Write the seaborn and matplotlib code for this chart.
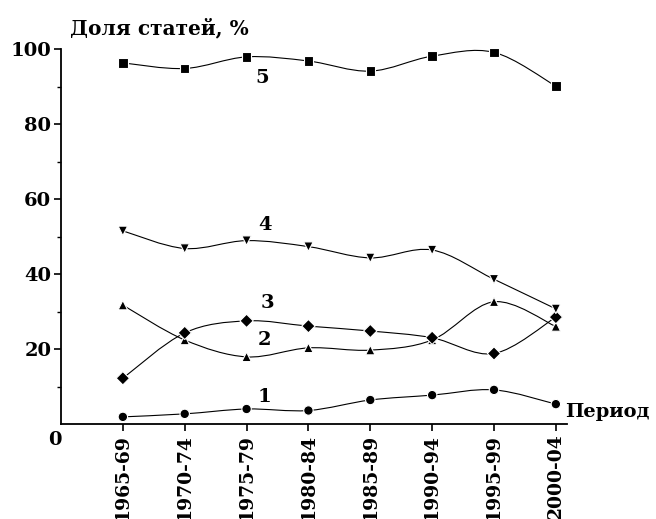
import numpy as np
import pandas as pd
import matplotlib
matplotlib.use("Agg")
import matplotlib.pyplot as plt
from matplotlib.path import Path
from matplotlib.patches import PathPatch
import seaborn as sns

periods = ["1965-69", "1970-74", "1975-79", "1980-84", "1985-89", "1990-94", "1995-99", "2000-04"]
s1 = [1.9, 2.7, 4.0, 3.6, 6.4, 7.7, 9.1, 5.3]
s2 = [31.7, 22.4, 17.9, 20.3, 19.7, 22.4, 32.6, 26.0]
s3 = [12.2, 24.3, 27.5, 26.1, 24.8, 23.0, 18.8, 28.5]
s4 = [51.5, 46.8, 48.9, 47.3, 44.3, 46.4, 38.6, 30.7]
s5 = [96.3, 94.8, 97.9, 96.8, 94.1, 98.1, 99.1, 90.1]
series_names = ["1", "2", "3", "4", "5"]
yticks = [20, 40, 60, 80, 100]
y_title = "Доля статей, %"
x_title = "Период"

sns.set_style("ticks")
plt.rcParams["font.family"] = ["DejaVu Serif"]
plt.rcParams["font.weight"] = "bold"
for key in ["text.color", "axes.labelcolor", "xtick.color", "ytick.color", "axes.edgecolor"]:
    plt.rcParams[key] = "black"

all_series = [s1, s2, s3, s4, s5]
df = pd.DataFrame({
    "pos": np.tile(np.arange(len(periods)), len(all_series)),
    "period": periods * len(all_series),
    "value": np.concatenate(all_series),
    "series": np.repeat(series_names, len(periods)),
})

fig = plt.figure(figsize=(6.56, 5.19), dpi=100)
ax = fig.add_axes([61 / 656, 1 - 424 / 519, (567 - 61) / 656, (424 - 49) / 519])


def smooth_path(xs, ys):
    pts = np.column_stack([xs, ys]).astype(float)
    n = len(pts)
    verts = [pts[0]]
    codes = [Path.MOVETO]
    for i in range(n - 1):
        p0 = pts[i - 1] if i > 0 else pts[i]
        p1 = pts[i]
        p2 = pts[i + 1]
        p3 = pts[i + 2] if i + 2 < n else pts[i + 1]
        c1 = p1 + (p2 - p0) / 6.0
        c2 = p2 - (p3 - p1) / 6.0
        verts += [c1, c2, p2]
        codes += [Path.CURVE4] * 3
    return Path(verts, codes)


for name in series_names:
    sub = df[df["series"] == name]
    ax.add_patch(PathPatch(smooth_path(sub["pos"], sub["value"]), fill=False,
                           edgecolor="black", lw=0.8, zorder=2))

sns.scatterplot(data=df, x="pos", y="value", style="series",
                markers={"1": "o", "2": "^", "3": "D", "4": "v", "5": "s"},
                color="black", s=46, edgecolor="white", linewidth=0.8,
                legend=False, ax=ax, zorder=3)

ax.set_xlim(-1.0, 7.18)
ax.set_ylim(0, 100)
ax.set_xticks(range(len(periods)))
ax.set_xticklabels(periods, rotation=90, fontsize=13.5)
ax.set_yticks(yticks)
ax.set_yticklabels([str(v) for v in yticks], fontsize=14)
ax.set_yticks([10, 30, 50, 70, 90], minor=True)
ax.set_xlabel("")
ax.set_ylabel("")
for side in ["top", "right"]:
    ax.spines[side].set_visible(False)
for side in ["left", "bottom"]:
    ax.spines[side].set_linewidth(1.3)
    ax.spines[side].set_color("black")
ax.tick_params(axis="both", which="major", direction="out", length=5, width=1.2, pad=2,
               color="black", labelcolor="black")
ax.tick_params(axis="y", which="minor", direction="out", length=3, width=1.0, color="black")

label_pos = {"1": (2.29, 7.2), "2": (2.29, 22.4), "3": (2.33, 32.3), "4": (2.29, 53.1), "5": (2.26, 92.3)}
for name, (lx, ly) in label_pos.items():
    ax.text(lx, ly, name, ha="center", va="center", fontsize=14, fontweight="bold", color="black")

fig.text(55 / 656, 1 - 440 / 519, "0", ha="center", va="center", fontsize=14, fontweight="bold", color="black")
fig.text(565 / 656, 1 - 412 / 519, x_title, ha="left", va="center", fontsize=14, fontweight="bold", color="black")
fig.text(70 / 656, 1 - 28 / 519, y_title, ha="left", va="center", fontsize=14.5, fontweight="bold", color="black")

fig.savefig("out.png", dpi=100)
